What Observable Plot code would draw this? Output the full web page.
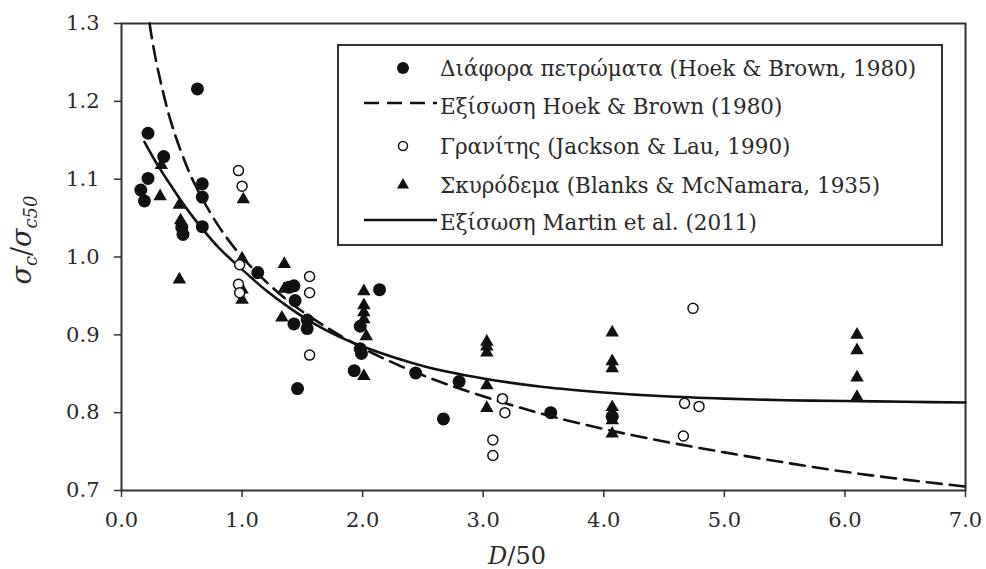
<!DOCTYPE html>
<html>
<head>
<meta charset="utf-8">
<script src="https://cdn.jsdelivr.net/npm/d3@7"></script>
<script src="https://cdn.jsdelivr.net/npm/@observablehq/plot@0.6"></script>
<style>
  html, body { margin: 0; padding: 0; background: #ffffff; }
  #chart { width: 986px; height: 569px; }
</style>
</head>
<body>
<div id="chart"></div>
<script>
// ---------- Data ----------
const xTicks = [0, 1, 2, 3, 4, 5, 6, 7];
const yTicks = [0.7, 0.8, 0.9, 1.0, 1.1, 1.2, 1.3];

// Διάφορα πετρώματα (Hoek & Brown, 1980) – filled circles
const rocksX = [0.63, 0.22, 0.35, 0.22, 0.16, 0.19, 0.67, 0.67, 0.50, 0.51, 0.67, 1.13, 1.39, 1.43, 1.44, 1.43, 1.54, 1.54, 1.46, 2.14, 1.98, 1.98, 1.99, 1.93, 2.44, 2.80, 2.67, 3.56, 4.07];
const rocksY = [1.216, 1.159, 1.129, 1.101, 1.086, 1.072, 1.094, 1.077, 1.038, 1.029, 1.039, 0.980, 0.961, 0.963, 0.944, 0.914, 0.919, 0.908, 0.831, 0.958, 0.911, 0.882, 0.876, 0.854, 0.851, 0.840, 0.792, 0.800, 0.795];

// Γρανίτης (Jackson & Lau, 1990) – open circles
const graniteX = [0.97, 1.00, 0.98, 0.97, 0.98, 1.56, 1.56, 1.56, 3.16, 3.18, 3.08, 3.08, 4.74, 4.67, 4.79, 4.66];
const graniteY = [1.111, 1.091, 0.990, 0.965, 0.954, 0.975, 0.954, 0.874, 0.818, 0.800, 0.765, 0.745, 0.934, 0.812, 0.808, 0.770];

// Σκυρόδεμα (Blanks & McNamara, 1935) – filled triangles
const concreteX = [0.32, 0.33, 0.48, 0.49, 0.48, 1.01, 1.00, 1.00, 1.00, 1.35, 1.35, 1.33, 2.01, 2.01, 2.01, 2.01, 2.03, 2.01, 3.03, 3.03, 3.03, 3.03, 3.03, 4.07, 4.07, 4.07, 4.07, 4.07, 4.07, 4.07, 6.10, 6.10, 6.10, 6.10];
const concreteY = [1.078, 1.118, 1.067, 1.047, 0.971, 1.074, 0.998, 0.958, 0.945, 0.991, 0.959, 0.922, 0.956, 0.938, 0.929, 0.920, 0.898, 0.847, 0.891, 0.885, 0.877, 0.835, 0.806, 0.903, 0.866, 0.857, 0.807, 0.799, 0.790, 0.773, 0.900, 0.880, 0.845, 0.820];

// Εξίσωση Hoek & Brown (1980) – dashed curve
const hbX = [0.233, 0.25, 0.3, 0.4, 0.5, 0.6, 0.8, 1.0, 1.25, 1.5, 2.0, 2.5, 3.0, 3.5, 4.0, 4.5, 5.0, 5.5, 6.0, 6.5, 7.0];
const hbY = [1.300, 1.283, 1.242, 1.179, 1.133, 1.096, 1.041, 1.000, 0.961, 0.930, 0.883, 0.848, 0.821, 0.798, 0.779, 0.763, 0.749, 0.736, 0.724, 0.714, 0.705];

// Εξίσωση Martin et al. (2011) – solid curve
const mX = [0.19, 0.3, 0.4, 0.5, 0.6, 0.8, 1.0, 1.2, 1.4, 1.6, 1.8, 2.0, 2.5, 3.0, 3.5, 4.0, 4.5, 5.0, 5.5, 6.0, 6.5, 7.0];
const mY = [1.148, 1.118, 1.094, 1.071, 1.050, 1.013, 0.984, 0.957, 0.934, 0.914, 0.898, 0.885, 0.860, 0.844, 0.833, 0.826, 0.821, 0.818, 0.816, 0.815, 0.814, 0.813];

const legendLabels = [
  "Διάφορα πετρώματα (Hoek & Brown, 1980)",
  "Εξίσωση Hoek & Brown (1980)",
  "Γρανίτης (Jackson & Lau, 1990)",
  "Σκυρόδεμα (Blanks & McNamara, 1935)",
  "Εξίσωση Martin et al. (2011)"
];

// ---------- Tables ----------
const rocks = rocksX.map((x, i) => ({x, y: rocksY[i]}));
const granite = graniteX.map((x, i) => ({x, y: graniteY[i]}));
const concrete = concreteX.map((x, i) => ({x, y: concreteY[i]}));
const hb = hbX.map((x, i) => ({x, y: hbY[i]}));
const martin = mX.map((x, i) => ({x, y: mY[i]}));

const INK = "#111";
const FONT = "DejaVu Serif";
const TXT = "#2a2a2a";

const chart = Plot.plot({
  width: 986,
  height: 569,
  marginLeft: 121,
  marginRight: 21,
  marginTop: 23,
  marginBottom: 79,
  style: {fontFamily: FONT, fontSize: "21px", color: TXT, background: "#ffffff", overflow: "visible"},
  x: {domain: [0, 7]},
  y: {domain: [0.7, 1.3]},
  marks: [
    Plot.frame({stroke: "#333", strokeWidth: 2}),
    Plot.axisX({ticks: xTicks, tickFormat: d => d.toFixed(1), tickSize: 7, tickPadding: 15, label: null, stroke: "#333", strokeWidth: 1.5, fontSize: 21, fontFamily: FONT}),
    Plot.axisY({ticks: yTicks, tickFormat: d => d.toFixed(1), tickSize: 7, tickPadding: 15, label: null, stroke: "#333", strokeWidth: 1.5, fontSize: 21, fontFamily: FONT}),
    Plot.line(hb, {x: "x", y: "y", stroke: INK, strokeWidth: 2.6, strokeDasharray: "15,8", curve: "catmull-rom"}),
    Plot.line(martin, {x: "x", y: "y", stroke: INK, strokeWidth: 2.6, curve: "catmull-rom"}),
    Plot.dot(concrete, {x: "x", y: "y", symbol: "triangle", r: 5, fill: INK, stroke: "none"}),
    Plot.dot(granite, {x: "x", y: "y", symbol: "circle", r: 5, fill: "white", stroke: INK, strokeWidth: 1.5}),
    Plot.dot(rocks, {x: "x", y: "y", symbol: "circle", r: 6.5, fill: INK, stroke: "none"})
  ]
});

document.getElementById("chart").appendChild(chart);

// ---------- Axis titles & legend ----------
const svg = d3.select(chart);

// y title: σc/σc50
const yt = svg.append("text")
  .attr("transform", "translate(31,240) rotate(-90)")
  .attr("text-anchor", "middle")
  .style("font-family", FONT)
  .attr("font-size", 27)
  .attr("fill", TXT);
yt.append("tspan").attr("font-style", "italic").text("σ");
yt.append("tspan").attr("font-style", "italic").attr("font-size", 18).attr("dy", 6).text("c");
yt.append("tspan").attr("dy", -6).text("/");
yt.append("tspan").attr("font-style", "italic").text("σ");
yt.append("tspan").attr("font-style", "italic").attr("font-size", 18).attr("dy", 6).text("c50");

// x title: D/50
const xt = svg.append("text")
  .attr("x", 517).attr("y", 564)
  .attr("text-anchor", "middle")
  .style("font-family", FONT)
  .attr("font-size", 24)
  .attr("fill", TXT);
xt.append("tspan").attr("font-style", "italic").text("D");
xt.append("tspan").text("/50");

// legend
const lg = svg.append("g");
lg.append("rect")
  .attr("x", 338).attr("y", 45).attr("width", 604).attr("height", 200)
  .attr("fill", "white").attr("stroke", "#333").attr("stroke-width", 2);
const rowY = [68, 106, 146, 185, 222];
const symX = 403;
lg.append("circle").attr("cx", symX).attr("cy", rowY[0]).attr("r", 6).attr("fill", INK);
lg.append("line").attr("x1", 364).attr("x2", 437).attr("y1", rowY[1] - 3).attr("y2", rowY[1] - 3)
  .attr("stroke", INK).attr("stroke-width", 2.6).attr("stroke-dasharray", "15,8");
lg.append("circle").attr("cx", symX).attr("cy", rowY[2]).attr("r", 4.5).attr("fill", "white").attr("stroke", INK).attr("stroke-width", 1.5);
lg.append("path").attr("transform", `translate(${symX},${rowY[3]})`)
  .attr("d", d3.symbol(d3.symbolTriangle, Math.PI * 20)()).attr("fill", INK);
lg.append("line").attr("x1", 364).attr("x2", 437).attr("y1", rowY[4] - 2).attr("y2", rowY[4] - 2)
  .attr("stroke", INK).attr("stroke-width", 2.6);

legendLabels.forEach((t, i) => {
  lg.append("text")
    .attr("x", 440).attr("y", rowY[i])
    .attr("dy", "0.35em")
    .attr("text-anchor", "start")
    .style("font-family", FONT)
    .attr("font-size", 21.5)
    .attr("fill", TXT)
    .text(t);
});
</script>
</body>
</html>
